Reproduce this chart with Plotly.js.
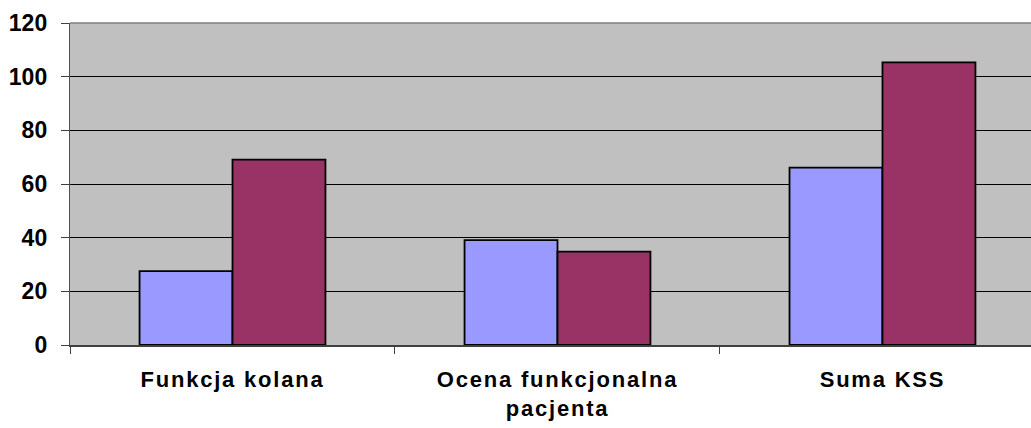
<!DOCTYPE html>
<html>
<head>
<meta charset="utf-8">
<script src="https://cdn.plot.ly/plotly-3.0.1.min.js"></script>
<style>
html, body { margin: 0; padding: 0; background: #ffffff; }
#chart { width: 1031px; height: 428px; }
.xtick text { letter-spacing: 1.8px; }
</style>
</head>
<body>
<div id="chart"></div>
<script>
var categories = ["Funkcja kolana", "Ocena funkcjonalna<br>pacjenta", "Suma KSS"];
var seriesA = [27.5, 39.1, 66.1];
var seriesB = [69.1, 34.8, 105.3];
var yTicks = [0, 20, 40, 60, 80, 100, 120];

var traces = [
  {
    type: "bar", x: categories, y: seriesA, name: "A",
    marker: { color: "#9999FF", line: { color: "#000000", width: 1.8 } },
    hoverinfo: "none"
  },
  {
    type: "bar", x: categories, y: seriesB, name: "B",
    marker: { color: "#993366", line: { color: "#000000", width: 1.8 } },
    hoverinfo: "none"
  }
];

var layout = {
  width: 1031, height: 428,
  margin: { l: 70, r: 0, t: 22.5, b: 83, pad: 0 },
  paper_bgcolor: "#ffffff",
  plot_bgcolor: "#C0C0C0",
  showlegend: false,
  barmode: "group",
  bargap: 0.428,
  bargroupgap: 0,
  font: { family: "Liberation Sans, Arial, sans-serif", color: "#000000" },
  xaxis: {
    type: "category",
    range: [-0.5, 2.457],
    tickson: "boundaries",
    ticks: "outside", ticklen: 7, tickwidth: 1, tickcolor: "#404040",
    showline: true, linecolor: "#404040", linewidth: 1.5,
    showgrid: false, zeroline: false,
    tickfont: { size: 22, family: "Liberation Sans, Arial, sans-serif", weight: "bold", color: "#000000" },
    ticklabelstandoff: 14
  },
  yaxis: {
    range: [0, 120],
    tickvals: yTicks,
    ticktext: yTicks.map(String),
    ticks: "outside", ticklen: 8, tickwidth: 1, tickcolor: "#404040",
    showline: true, linecolor: "#505050", linewidth: 1.2,
    showgrid: true, gridcolor: "#000000", gridwidth: 1,
    zeroline: false,
    tickfont: { size: 23, family: "Liberation Sans, Arial, sans-serif", weight: "bold", color: "#000000" },
    ticklabelstandoff: 9
  },
  shapes: [
    { type: "line", xref: "paper", yref: "paper", x0: 0, x1: 1, y0: 1, y1: 1,
      line: { color: "#808080", width: 1.5 } }
  ]
};

Plotly.newPlot("chart", traces, layout, { displayModeBar: false, staticPlot: true });
</script>
</body>
</html>
